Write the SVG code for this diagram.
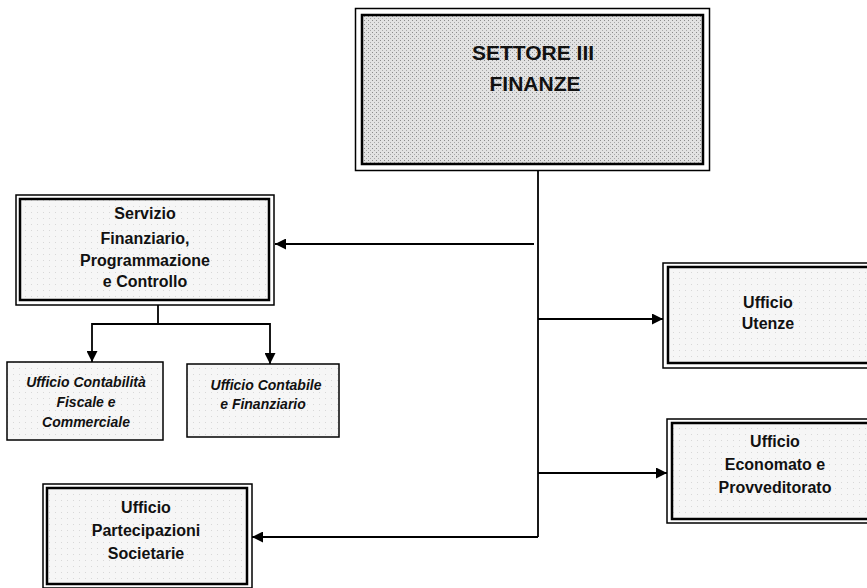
<svg xmlns="http://www.w3.org/2000/svg" width="867" height="588" viewBox="0 0 867 588">
  <defs>
    <marker id="ah" viewBox="0 0 10 10" refX="10" refY="5" markerWidth="12" markerHeight="11" markerUnits="userSpaceOnUse" orient="auto">
      <path d="M0,0 L10,5 L0,10 z" fill="#000"/>
    </marker>
    <pattern id="stip" width="4" height="4" patternUnits="userSpaceOnUse">
      <rect width="4" height="4" fill="#e2e2e2"/>
      <rect x="0" y="0" width="1" height="1" fill="#8a8a8a"/>
      <rect x="2" y="2" width="1" height="1" fill="#a8a8a8"/>
    </pattern>
    <pattern id="light" width="6" height="6" patternUnits="userSpaceOnUse">
      <rect width="6" height="6" fill="#f6f6f6"/>
      <rect x="1" y="2" width="1" height="1" fill="#d8d8d8"/>
    </pattern>
  </defs>
  <style>
    .outer { fill: none; stroke: #000; stroke-width: 1.5; }
    .inner { stroke: #000; stroke-width: 2.5; }
    .single { fill: url(#light); stroke: #000; stroke-width: 1.5; }
    .t { font-family: "Liberation Sans", Arial, sans-serif; font-weight: bold; text-anchor: middle; fill: #111; }
    .b { font-size: 16px; }
    .it { font-size: 14px; font-style: italic; }
    .big { font-size: 21px; }
    .conn { fill: none; stroke: #000; stroke-width: 1.8; }
  </style>
  <rect width="867" height="588" fill="#fff"/>

  <g id="settore">
    <rect class="outer" x="355.5" y="8.5" width="354" height="162"/>
    <rect class="inner" x="362" y="15" width="341" height="149" fill="url(#stip)" stroke-width="3.5"/>
    <text class="t big" x="533" y="60">SETTORE III</text>
    <text class="t big" x="535" y="91">FINANZE</text>
  </g>

  <g id="servizio">
    <rect class="outer" x="16" y="195" width="258" height="110"/>
    <rect class="inner" x="20" y="199" width="249" height="101" fill="url(#light)"/>
    <text class="t b" x="145" y="219">Servizio</text>
    <text class="t b" x="145" y="244">Finanziario,</text>
    <text class="t b" x="145" y="266">Programmazione</text>
    <text class="t b" x="145" y="287">e Controllo</text>
  </g>

  <g id="contabilita">
    <rect class="single" x="7" y="362" width="156" height="78"/>
    <text class="t it" x="86" y="387">Ufficio Contabilità</text>
    <text class="t it" x="86" y="407">Fiscale e</text>
    <text class="t it" x="86" y="427">Commerciale</text>
  </g>

  <g id="contabile">
    <rect class="single" x="187" y="364" width="152" height="73"/>
    <text class="t it" x="266" y="390">Ufficio Contabile</text>
    <text class="t it" x="263" y="409">e Finanziario</text>
  </g>

  <g id="utenze">
    <rect class="outer" x="663" y="263" width="210" height="105"/>
    <rect class="inner" x="668" y="267" width="205" height="96" fill="url(#light)"/>
    <text class="t b" x="768" y="308">Ufficio</text>
    <text class="t b" x="768" y="329">Utenze</text>
  </g>

  <g id="economato">
    <rect class="outer" x="667" y="419" width="206" height="104"/>
    <rect class="inner" x="672" y="423" width="201" height="96" fill="url(#light)"/>
    <text class="t b" x="775" y="447">Ufficio</text>
    <text class="t b" x="775" y="470">Economato e</text>
    <text class="t b" x="775" y="493">Provveditorato</text>
  </g>

  <g id="partecipazioni">
    <rect class="outer" x="43" y="484" width="209" height="104"/>
    <rect class="inner" x="47" y="488" width="200" height="96" fill="url(#light)"/>
    <text class="t b" x="146" y="513">Ufficio</text>
    <text class="t b" x="146" y="536">Partecipazioni</text>
    <text class="t b" x="146" y="559">Societarie</text>
  </g>

  <g id="connectors">
    <path class="conn" d="M538,171 V537"/>
    <path class="conn" d="M534,244 H275" stroke-width="4" marker-end="url(#ah)"/>
    <path class="conn" d="M538,319 H663" marker-end="url(#ah)"/>
    <path class="conn" d="M538,473 H667" marker-end="url(#ah)"/>
    <path class="conn" d="M538,537 H252" marker-end="url(#ah)"/>
    <path class="conn" d="M158,305 V324"/>
    <path class="conn" d="M92,324 H270"/>
    <path class="conn" d="M92,323 V362" marker-end="url(#ah)"/>
    <path class="conn" d="M270,323 V364" marker-end="url(#ah)"/>
  </g>
</svg>
